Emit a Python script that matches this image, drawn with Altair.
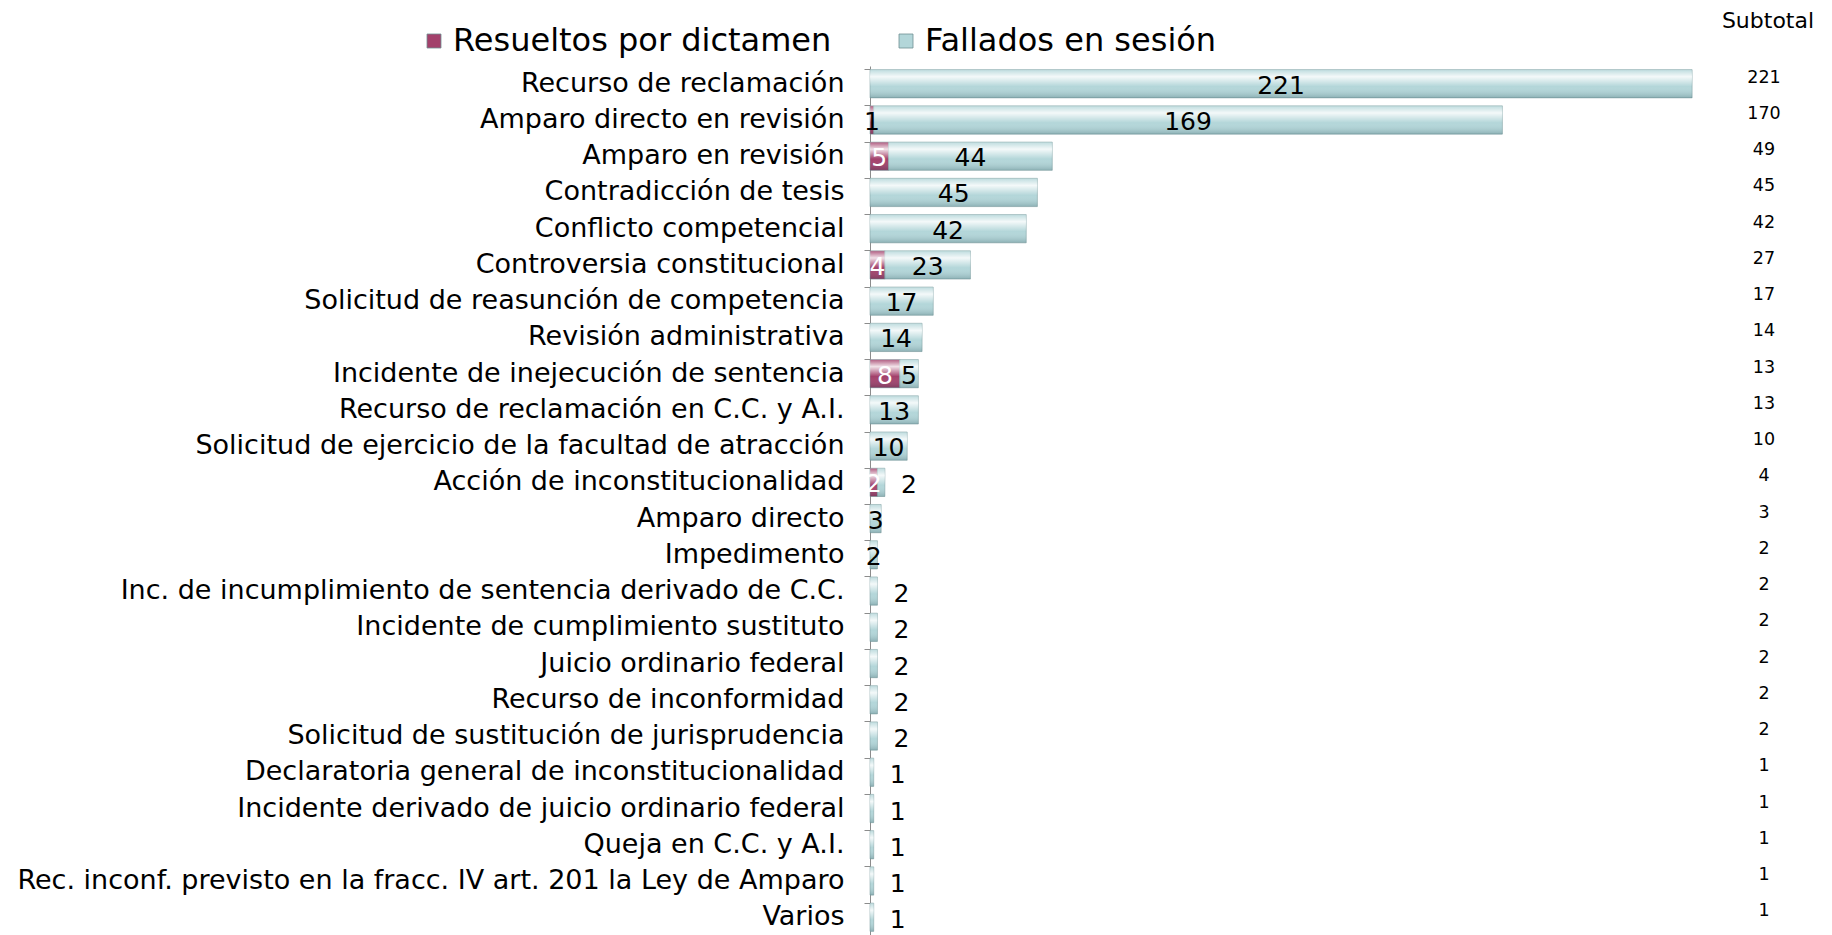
import altair as alt
import pandas as pd

categories = [
    "Recurso de reclamación",
    "Amparo directo en revisión",
    "Amparo en revisión",
    "Contradicción de tesis",
    "Conflicto competencial",
    "Controversia constitucional",
    "Solicitud de reasunción de competencia",
    "Revisión administrativa",
    "Incidente de inejecución de sentencia",
    "Recurso de reclamación en C.C. y A.I.",
    "Solicitud de ejercicio de la facultad de atracción",
    "Acción de inconstitucionalidad",
    "Amparo directo",
    "Impedimento",
    "Inc. de incumplimiento de sentencia derivado de C.C. ",
    "Incidente de cumplimiento sustituto",
    "Juicio ordinario federal",
    "Recurso de inconformidad",
    "Solicitud de sustitución de jurisprudencia",
    "Declaratoria general de inconstitucionalidad",
    "Incidente derivado de juicio ordinario federal",
    "Queja en C.C. y A.I.",
    "Rec. inconf. previsto en la fracc. IV art. 201 la Ley de Amparo",
    "Varios",
]
resueltos = [0, 1, 5, 0, 0, 4, 0, 0, 8, 0, 0, 2, 0, 0, 0, 0, 0, 0, 0, 0, 0, 0, 0, 0]
fallados = [221, 169, 44, 45, 42, 23, 17, 14, 5, 13, 10, 2, 3, 2, 2, 2, 2, 2, 2, 1, 1, 1, 1, 1]
subtotal = [221, 170, 49, 45, 42, 27, 17, 14, 13, 13, 10, 4, 3, 2, 2, 2, 2, 2, 2, 1, 1, 1, 1, 1]
series = ["Resueltos por dictamen", "Fallados en sesión"]
label_outside = [
    "Acción de inconstitucionalidad",
    "Inc. de incumplimiento de sentencia derivado de C.C. ",
    "Incidente de cumplimiento sustituto",
    "Juicio ordinario federal",
    "Recurso de inconformidad",
    "Solicitud de sustitución de jurisprudencia",
    "Declaratoria general de inconstitucionalidad",
    "Incidente derivado de juicio ordinario federal",
    "Queja en C.C. y A.I.",
    "Rec. inconf. previsto en la fracc. IV art. 201 la Ley de Amparo",
    "Varios",
]

rows = []
for c, r, f, s in zip(categories, resueltos, fallados, subtotal):
    if r > 0:
        rows.append({"cat": c, "serie": series[0], "v": r, "x0": 0, "x1": r,
                     "outside": False, "sub": s})
    rows.append({"cat": c, "serie": series[1], "v": f, "x0": r, "x1": r + f,
                 "outside": c in label_outside, "sub": s})
df = pd.DataFrame(rows)
sub_df = pd.DataFrame({"cat": categories, "sub": subtotal})
head_df = pd.DataFrame({"t": ["Subtotal"]})

FONT = "DejaVu Sans"
ysc = alt.Y("cat:N", sort=categories,
            scale=alt.Scale(paddingInner=0.22, paddingOuter=0.1),
            axis=alt.Axis(title=None, labelFontSize=27, labelColor="#000000",
                          labelFont=FONT, tickColor="#8c8c8c", domainColor="#8c8c8c",
                          tickSize=6, labelPadding=20, bandPosition=0,
                          labelLimit=1000, grid=False))
xsc = alt.Scale(domain=[0, 250], nice=False, zero=True)
ycat = alt.Y("cat:N", sort=categories)

base = alt.Chart(df)

bars = base.mark_bar(stroke="#7f9fa2", strokeWidth=0.8, strokeOpacity=0.7).encode(
    y=ysc,
    x=alt.X("x0:Q", scale=xsc, axis=None),
    x2="x1:Q",
    color=alt.Color("serie:N", scale=alt.Scale(domain=series, range=["#a3406b", "#b3d6d9"]),
                    legend=alt.Legend(title=None, orient="none", legendX=-452, legendY=-41,
                                      direction="horizontal", symbolType="square",
                                      symbolSize=196, labelFontSize=32, labelFont=FONT,
                                      labelColor="#000000", columnPadding=58,
                                      symbolStrokeColor="#6f8f92", symbolStrokeWidth=0.8,
                                      labelOffset=3, labelLimit=1000)),
)

shine = base.mark_bar(
    color=alt.Gradient(
        gradient="linear", x1=0, x2=0, y1=0, y2=1,
        stops=[
            alt.GradientStop(color="rgba(255,255,255,0.15)", offset=0),
            alt.GradientStop(color="rgba(255,255,255,0.85)", offset=0.25),
            alt.GradientStop(color="rgba(255,255,255,0.0)", offset=0.6),
            alt.GradientStop(color="rgba(0,40,50,0.22)", offset=1),
        ],
    )
).encode(y=ycat, x=alt.X("x0:Q", scale=xsc, axis=None), x2="x1:Q")

lab_in = base.transform_filter("!datum.outside").transform_calculate(
    mid="(datum.x0 + datum.x1) / 2"
).mark_text(fontSize=25, font=FONT, baseline="middle", dy=2).encode(
    y=ycat,
    x=alt.X("mid:Q", scale=xsc, axis=None),
    text="v:Q",
    color=alt.condition((alt.datum.serie == series[0]) & (alt.datum.v > 1),
                        alt.value("#ffffff"), alt.value("#000000")),
)

lab_out = base.transform_filter("datum.outside").mark_text(
    fontSize=25, font=FONT, baseline="middle", align="left", dx=16, dy=3, color="#000000"
).encode(y=ycat, x=alt.X("x1:Q", scale=xsc, axis=None), text="v:Q")

subs = alt.Chart(sub_df).mark_text(fontSize=17.5, font=FONT, color="#000000",
                                   baseline="middle", dy=-6).encode(
    y=ycat, x=alt.value(894), text="sub:Q")

head = alt.Chart(head_df).mark_text(fontSize=22, font=FONT, color="#000000",
                                    baseline="middle").encode(
    x=alt.value(898), y=alt.value(-45), text="t:N")

chart = alt.layer(bars, shine, lab_in, lab_out, subs, head).properties(
    width=930, height=869,
    background="#ffffff",
    autosize=alt.AutoSizeParams(type="none"),
    padding={"left": 862, "top": 58, "right": 24, "bottom": 0},
).configure_view(stroke=None, strokeWidth=0)

chart.save("out.html", embed_options={"renderer": "svg", "actions": False})
